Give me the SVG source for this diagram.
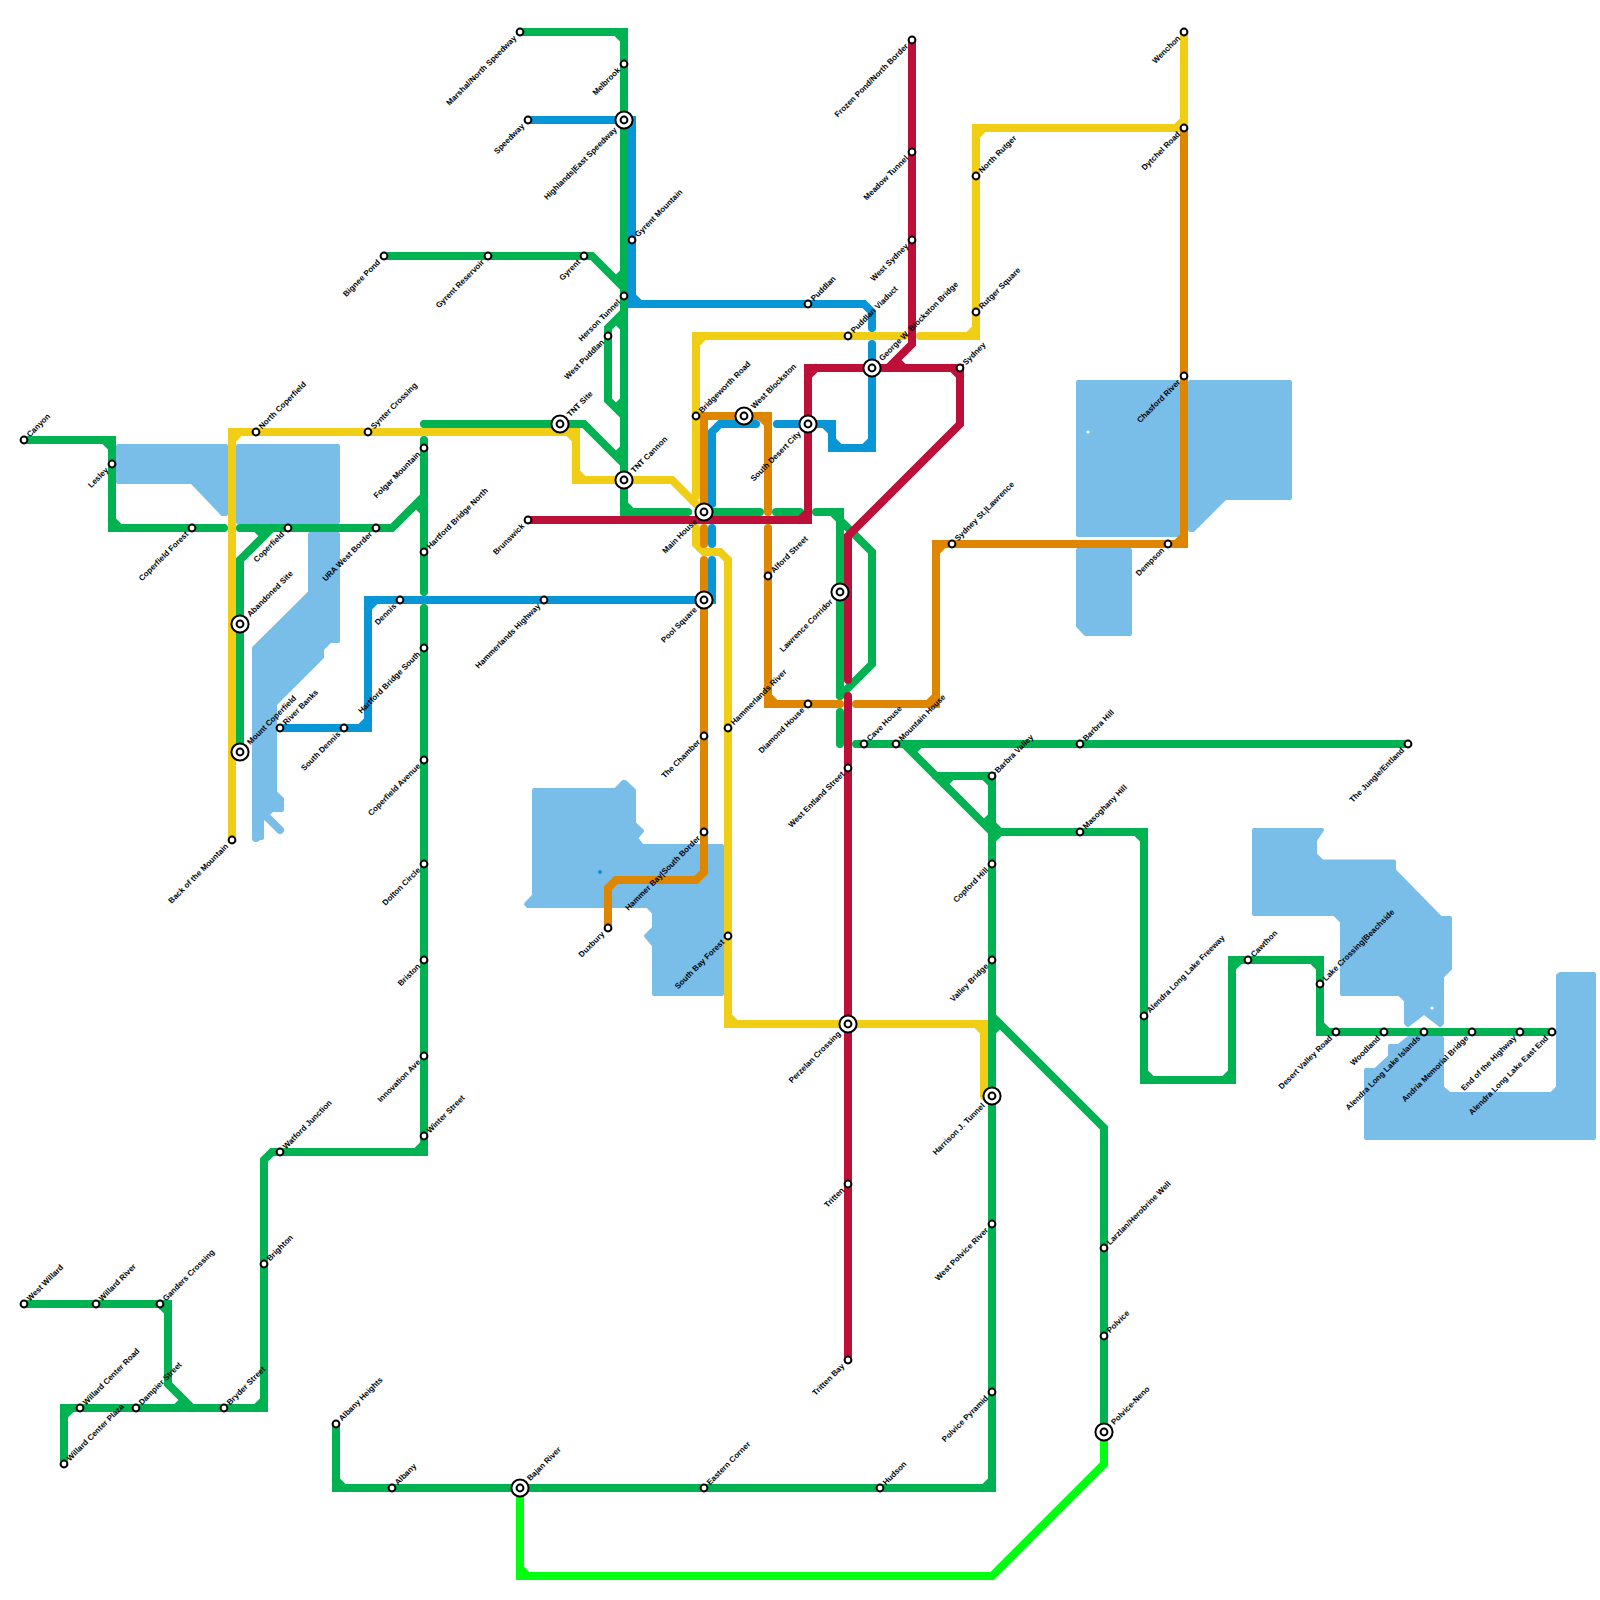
<svg xmlns="http://www.w3.org/2000/svg" width="1600" height="1600" viewBox="0 0 1600 1600">
<style>
.w{fill:#79bde9;stroke:#79bde9;stroke-width:4;stroke-linejoin:round;stroke-linecap:round}
.t{fill:none;stroke:#79bde9;stroke-width:8;stroke-linecap:round}
.c path{fill:none;stroke-width:8;stroke-linecap:round;stroke-linejoin:miter;stroke-miterlimit:4}
.gr{stroke:#00b251}.li{stroke:#0f1}.bl{stroke:#0896d7}.ye{stroke:#f0ce15}.or{stroke:#df8600}.cr{stroke:#bd1038}
.s{fill:#fff;stroke:#000;stroke-width:2}
text{font-family:"Liberation Sans",Arial,sans-serif;font-size:8px;font-weight:700;fill:#000}
.a{text-anchor:start}.b{text-anchor:end}
</style>
<defs>
<g id="m"><circle class="s" r="3.4"/></g>
<g id="x"><circle class="s" r="8.6"/><circle class="s" r="3.4"/></g>
</defs>
<rect width="1600" height="1600" fill="#fff"/>
<g id="water">
<path class="w" d="M118 446H226V514H222.500L192 482H118Z"/>
<path class="w" d="M238 446H338V522H238Z"/>
<path class="w" d="M310 534H338V641H330L322 649V657L275 704V792.500L282 799V810H272L262 820V838H254V648L310 592.500Z"/>
<path class="t" d="M268 818L280 830"/>
<path class="t" d="M256 838V820"/>
<path class="w" d="M534 790H615.500L623 782H625L634 790.500V823.500L642 831L636 838L642 846H722V994H654V945.500L646 936L654 928V913L647.500 906H528L526 904L534 895.500Z"/>
<path class="w" d="M1078 382H1178V535H1078Z"/>
<path class="w" d="M1190 382H1290V498H1225L1193 530H1190Z"/>
<path class="w" d="M1078 550H1130V634H1085.500L1078 626Z"/>
<path class="w" d="M1254 830H1322L1315 840.500V854.500L1322 861.500H1394V870.500L1440.500 918H1450V968.500L1442 976.500V1023L1440 1025L1424 1012.500L1408 1025L1406 1023V1000.500L1399.500 994H1342V921.500L1334.500 914H1254Z"/>
<path class="w" d="M1442 1038V1087.500L1449.500 1094H1551.500L1558 1087.500V975.500L1560 974H1594V1138H1366V1070H1375.500L1390 1056.500V1046H1398.500L1408.500 1038Z"/>
<circle cx="600" cy="872" r="2" fill="#0896d7"/>
<circle cx="1088" cy="432" r="1.6" fill="#fff"/>
<circle cx="1432" cy="1008" r="1.6" fill="#fff"/>
</g>
<g id="connectors" class="c">
<path class="li" d="M520 1488V1576H992L1104 1464V1432M520 1568L528 1576"/>
<path class="gr" d="M24 440H112V528H224M104 440L112 448M112 520L120 528"/>
<path class="gr" d="M240 528H392L424 496M416 504L424 512"/>
<path class="gr" d="M272 528L240 560V752M256 528L264 536"/>
<path class="gr" d="M424 440V592M424 608V1152H272L264 1160V1408H64V1464M424 1144L416 1152M264 1400L256 1408M72 1408L64 1416"/>
<path class="gr" d="M424 424H584L624 464M616 456L624 448"/>
<path class="gr" d="M520 32H624V512H688M704 512H760M776 512H800M816 512H840V696M840 712V744M616 32L624 40M624 504L632 512M832 512L840 520"/>
<path class="gr" d="M840 520L872 552V664L840 696"/>
<path class="gr" d="M624 312L608 328V400L624 416M616 320L624 328M616 408L624 400"/>
<path class="gr" d="M384 256H592L624 288M616 280L624 272"/>
<path class="gr" d="M336 1424V1488H992V776H936M336 1480L344 1488M984 1488L992 1480M984 776L992 784M944 784L952 776M1000 1024L992 1032"/>
<path class="gr" d="M856 744H1408M904 744L992 832M912 752L920 744M984 824L992 816M992 824L1000 832M1000 832L992 840"/>
<path class="gr" d="M992 832H1144V1080H1232V960H1320V1032H1552M1136 832L1144 840M1144 1072L1152 1080M1224 1080L1232 1072M1232 968L1240 960M1312 960L1320 968M1320 1024L1328 1032"/>
<path class="gr" d="M992 1016L1104 1128V1432"/>
<path class="gr" d="M24 1304H168V1384L192 1408M160 1304L168 1312M184 1400L176 1408"/>
<path class="ye" d="M232 840V432H576V480H672L704 512M232 440L240 432M568 432L576 440M576 472L584 480"/>
<path class="ye" d="M696 496V336H904M920 336H976V128H1184M696 344L704 336M976 328L968 336M976 136L984 128M1176 128L1184 120"/>
<path class="ye" d="M1184 32V128"/>
<path class="ye" d="M696 528V544L704 552H720L728 560V1024H984V1096M728 1016L736 1024M976 1024L984 1032"/>
<path class="or" d="M704 504V416H768V512M768 528V704H840M856 704H936V544H1184V128M760 416L768 424M768 696L776 704M928 704L936 696M936 552L944 544M1176 544L1184 536"/>
<path class="or" d="M704 528V544M704 560V872L696 880H616L608 888V928"/>
<path class="bl" d="M528 120H632V304H864L872 312V328M872 344V448H832V424H777M756 424H720L712 432V504M712 528V544M712 560V600H368V728H280M632 296L640 304M872 440L864 448M840 448L832 440M832 432L824 424M376 600L368 608M368 720L360 728"/>
<path class="cr" d="M528 520H808V368H960V424L848 536V680M848 696V1360M800 520L808 512M808 376L816 368M952 368L960 376"/>
<path class="cr" d="M912 40V344L888 368M896 360L904 368"/>
</g>
<g id="nodes">
<g id="n1" transform="translate(24 440)"><use href="#m"/><text class="a" x="6" y="2.5" transform="rotate(-45)">Canyon</text></g>
<g id="n2" transform="translate(112 464)"><use href="#m"/><text class="b" x="-7" y="2.5" transform="rotate(-45)">Lesley</text></g>
<g id="n3" transform="translate(192 528)"><use href="#m"/><text class="b" x="-7" y="2.5" transform="rotate(-45)">Coperfield Forest</text></g>
<g id="n4" transform="translate(232 840)"><use href="#m"/><text class="b" x="-7" y="2.5" transform="rotate(-45)">Back of the Mountain</text></g>
<g id="n5" transform="translate(256 432)"><use href="#m"/><text class="a" x="6" y="2.5" transform="rotate(-45)">North Coperfield</text></g>
<g id="n6" transform="translate(368 432)"><use href="#m"/><text class="a" x="6" y="2.5" transform="rotate(-45)">Synter Crossing</text></g>
<g id="n7" transform="translate(560 424)"><use href="#x"/><text class="a" x="12" y="2.5" transform="rotate(-45)">TNT Site</text></g>
<g id="n8" transform="translate(624 480)"><use href="#x"/><text class="a" x="12" y="2.5" transform="rotate(-45)">TNT Cannon</text></g>
<g id="n9" transform="translate(424 448)"><use href="#m"/><text class="b" x="-7" y="2.5" transform="rotate(-45)">Folgar Mountain</text></g>
<g id="n10" transform="translate(424 552)"><use href="#m"/><text class="a" x="6" y="2.5" transform="rotate(-45)">Hartford Bridge North</text></g>
<g id="n11" transform="translate(424 648)"><use href="#m"/><text class="b" x="-7" y="2.5" transform="rotate(-45)">Hartford Bridge South</text></g>
<g id="n12" transform="translate(424 760)"><use href="#m"/><text class="b" x="-7" y="2.5" transform="rotate(-45)">Coperfield Avenue</text></g>
<g id="n13" transform="translate(424 864)"><use href="#m"/><text class="b" x="-7" y="2.5" transform="rotate(-45)">Dolton Circle</text></g>
<g id="n14" transform="translate(424 960)"><use href="#m"/><text class="b" x="-7" y="2.5" transform="rotate(-45)">Briston</text></g>
<g id="n15" transform="translate(424 1056)"><use href="#m"/><text class="b" x="-7" y="2.5" transform="rotate(-45)">Innovation Ave</text></g>
<g id="n16" transform="translate(424 1136)"><use href="#m"/><text class="a" x="6" y="2.5" transform="rotate(-45)">Winter Street</text></g>
<g id="n17" transform="translate(280 1152)"><use href="#m"/><text class="a" x="6" y="2.5" transform="rotate(-45)">Watford Junction</text></g>
<g id="n18" transform="translate(264 1264)"><use href="#m"/><text class="a" x="6" y="2.5" transform="rotate(-45)">Brighton</text></g>
<g id="n19" transform="translate(224 1408)"><use href="#m"/><text class="a" x="6" y="2.5" transform="rotate(-45)">Bryder Street</text></g>
<g id="n20" transform="translate(136 1408)"><use href="#m"/><text class="a" x="6" y="2.5" transform="rotate(-45)">Dampier Street</text></g>
<g id="n21" transform="translate(80 1408)"><use href="#m"/><text class="a" x="6" y="2.5" transform="rotate(-45)">Willard Center Road</text></g>
<g id="n22" transform="translate(64 1464)"><use href="#m"/><text class="a" x="6" y="2.5" transform="rotate(-45)">Willard Center Plaza</text></g>
<g id="n23" transform="translate(24 1304)"><use href="#m"/><text class="a" x="6" y="2.5" transform="rotate(-45)">West Willard</text></g>
<g id="n24" transform="translate(96 1304)"><use href="#m"/><text class="a" x="6" y="2.5" transform="rotate(-45)">Willard River</text></g>
<g id="n25" transform="translate(160 1304)"><use href="#m"/><text class="a" x="6" y="2.5" transform="rotate(-45)">Ganders Crossing</text></g>
<g id="n26" transform="translate(336 1424)"><use href="#m"/><text class="a" x="6" y="2.5" transform="rotate(-45)">Albany Heights</text></g>
<g id="n27" transform="translate(392 1488)"><use href="#m"/><text class="a" x="6" y="2.5" transform="rotate(-45)">Albany</text></g>
<g id="n28" transform="translate(520 1488)"><use href="#x"/><text class="a" x="12" y="2.5" transform="rotate(-45)">Bajan River</text></g>
<g id="n29" transform="translate(704 1488)"><use href="#m"/><text class="a" x="6" y="2.5" transform="rotate(-45)">Eastern Corner</text></g>
<g id="n30" transform="translate(880 1488)"><use href="#m"/><text class="a" x="6" y="2.5" transform="rotate(-45)">Hudson</text></g>
<g id="n31" transform="translate(992 1392)"><use href="#m"/><text class="b" x="-7" y="2.5" transform="rotate(-45)">Polvice Pyramid</text></g>
<g id="n32" transform="translate(992 1224)"><use href="#m"/><text class="b" x="-7" y="2.5" transform="rotate(-45)">West Polvice River</text></g>
<g id="n33" transform="translate(992 1096)"><use href="#x"/><text class="b" x="-12" y="2.5" transform="rotate(-45)">Harrison J. Tunnel</text></g>
<g id="n34" transform="translate(992 960)"><use href="#m"/><text class="b" x="-7" y="2.5" transform="rotate(-45)">Valley Bridge</text></g>
<g id="n35" transform="translate(992 864)"><use href="#m"/><text class="b" x="-7" y="2.5" transform="rotate(-45)">Copford Hill</text></g>
<g id="n36" transform="translate(992 776)"><use href="#m"/><text class="a" x="6" y="2.5" transform="rotate(-45)">Barbra Valley</text></g>
<g id="n37" transform="translate(1080 832)"><use href="#m"/><text class="a" x="6" y="2.5" transform="rotate(-45)">Masoghany Hill</text></g>
<g id="n38" transform="translate(1080 744)"><use href="#m"/><text class="a" x="6" y="2.5" transform="rotate(-45)">Barbra Hill</text></g>
<g id="n39" transform="translate(1408 744)"><use href="#m"/><text class="b" x="-7" y="2.5" transform="rotate(-45)">The Jungle/Entland</text></g>
<g id="n40" transform="translate(864 744)"><use href="#m"/><text class="a" x="6" y="2.5" transform="rotate(-45)">Cave House</text></g>
<g id="n41" transform="translate(896 744)"><use href="#m"/><text class="a" x="6" y="2.5" transform="rotate(-45)">Mountain House</text></g>
<g id="n42" transform="translate(848 768)"><use href="#m"/><text class="b" x="-7" y="2.5" transform="rotate(-45)">West Entland Street</text></g>
<g id="n43" transform="translate(848 1024)"><use href="#x"/><text class="b" x="-12" y="2.5" transform="rotate(-45)">Perzelan Crossing</text></g>
<g id="n44" transform="translate(848 1184)"><use href="#m"/><text class="b" x="-7" y="2.5" transform="rotate(-45)">Tritten</text></g>
<g id="n45" transform="translate(848 1360)"><use href="#m"/><text class="b" x="-7" y="2.5" transform="rotate(-45)">Tritten Bay</text></g>
<g id="n46" transform="translate(808 704)"><use href="#m"/><text class="b" x="-7" y="2.5" transform="rotate(-45)">Diamond House</text></g>
<g id="n47" transform="translate(728 728)"><use href="#m"/><text class="a" x="6" y="2.5" transform="rotate(-45)">Hammerlands River</text></g>
<g id="n48" transform="translate(768 576)"><use href="#m"/><text class="a" x="6" y="2.5" transform="rotate(-45)">Alford Street</text></g>
<g id="n49" transform="translate(704 736)"><use href="#m"/><text class="b" x="-7" y="2.5" transform="rotate(-45)">The Chamber</text></g>
<g id="n50" transform="translate(704 832)"><use href="#m"/><text class="b" x="-7" y="2.5" transform="rotate(-45)">Hammer Bay|South Border</text></g>
<g id="n51" transform="translate(608 928)"><use href="#m"/><text class="b" x="-7" y="2.5" transform="rotate(-45)">Duxbury</text></g>
<g id="n52" transform="translate(728 936)"><use href="#m"/><text class="b" x="-7" y="2.5" transform="rotate(-45)">South Bay Forest</text></g>
<g id="n53" transform="translate(704 600)"><use href="#x"/><text class="b" x="-12" y="2.5" transform="rotate(-45)">Pool Square</text></g>
<g id="n54" transform="translate(704 512)"><use href="#x"/><text class="b" x="-12" y="2.5" transform="rotate(-45)">Main House</text></g>
<g id="n55" transform="translate(696 416)"><use href="#m"/><text class="a" x="6" y="2.5" transform="rotate(-45)">Bridgeworth Road</text></g>
<g id="n56" transform="translate(744 416)"><use href="#x"/><text class="a" x="12" y="2.5" transform="rotate(-45)">West Blockston</text></g>
<g id="n57" transform="translate(808 424)"><use href="#x"/><text class="b" x="-12" y="2.5" transform="rotate(-45)">South Desert City</text></g>
<g id="n58" transform="translate(872 368)"><use href="#x"/><text class="a" x="12" y="2.5" transform="rotate(-45)">George W. Blockston Bridge</text></g>
<g id="n59" transform="translate(848 336)"><use href="#m"/><text class="a" x="6" y="2.5" transform="rotate(-45)">Puddlan Viaduct</text></g>
<g id="n60" transform="translate(808 304)"><use href="#m"/><text class="a" x="6" y="2.5" transform="rotate(-45)">Puddlan</text></g>
<g id="n61" transform="translate(960 368)"><use href="#m"/><text class="a" x="6" y="2.5" transform="rotate(-45)">Sydney</text></g>
<g id="n62" transform="translate(952 544)"><use href="#m"/><text class="a" x="6" y="2.5" transform="rotate(-45)">Sydney St.|Lawrence</text></g>
<g id="n63" transform="translate(840 592)"><use href="#x"/><text class="b" x="-12" y="2.5" transform="rotate(-45)">Lawrence Corridor</text></g>
<g id="n64" transform="translate(976 312)"><use href="#m"/><text class="a" x="6" y="2.5" transform="rotate(-45)">Rutger Square</text></g>
<g id="n65" transform="translate(976 176)"><use href="#m"/><text class="a" x="6" y="2.5" transform="rotate(-45)">North Rutger</text></g>
<g id="n66" transform="translate(912 40)"><use href="#m"/><text class="b" x="-7" y="2.5" transform="rotate(-45)">Frozen Pond/North Border</text></g>
<g id="n67" transform="translate(912 152)"><use href="#m"/><text class="b" x="-7" y="2.5" transform="rotate(-45)">Meadow Tunnel</text></g>
<g id="n68" transform="translate(912 240)"><use href="#m"/><text class="b" x="-7" y="2.5" transform="rotate(-45)">West Sydney</text></g>
<g id="n69" transform="translate(1184 32)"><use href="#m"/><text class="b" x="-7" y="2.5" transform="rotate(-45)">Wenchon</text></g>
<g id="n70" transform="translate(1184 128)"><use href="#m"/><text class="b" x="-7" y="2.5" transform="rotate(-45)">Dytchel Road</text></g>
<g id="n71" transform="translate(1184 376)"><use href="#m"/><text class="b" x="-7" y="2.5" transform="rotate(-45)">Chasford River</text></g>
<g id="n72" transform="translate(1168 544)"><use href="#m"/><text class="b" x="-7" y="2.5" transform="rotate(-45)">Dempson</text></g>
<g id="n73" transform="translate(1144 1016)"><use href="#m"/><text class="a" x="6" y="2.5" transform="rotate(-45)">Alendra Long Lake Freeway</text></g>
<g id="n74" transform="translate(1248 960)"><use href="#m"/><text class="a" x="6" y="2.5" transform="rotate(-45)">Cawthon</text></g>
<g id="n75" transform="translate(1320 984)"><use href="#m"/><text class="a" x="6" y="2.5" transform="rotate(-45)">Lake Crossing|Beachside</text></g>
<g id="n76" transform="translate(1336 1032)"><use href="#m"/><text class="b" x="-7" y="2.5" transform="rotate(-45)">Desert Valley Road</text></g>
<g id="n77" transform="translate(1384 1032)"><use href="#m"/><text class="b" x="-7" y="2.5" transform="rotate(-45)">Woodland</text></g>
<g id="n78" transform="translate(1424 1032)"><use href="#m"/><text class="b" x="-7" y="2.5" transform="rotate(-45)">Alendra Long Lake Islands</text></g>
<g id="n79" transform="translate(1472 1032)"><use href="#m"/><text class="b" x="-7" y="2.5" transform="rotate(-45)">Andria Memorial Bridge</text></g>
<g id="n80" transform="translate(1520 1032)"><use href="#m"/><text class="b" x="-7" y="2.5" transform="rotate(-45)">End of the Highway</text></g>
<g id="n81" transform="translate(1552 1032)"><use href="#m"/><text class="b" x="-7" y="2.5" transform="rotate(-45)">Alendra Long Lake East End</text></g>
<g id="n82" transform="translate(1104 1248)"><use href="#m"/><text class="a" x="6" y="2.5" transform="rotate(-45)">Larzlan/Herobrine Well</text></g>
<g id="n83" transform="translate(1104 1336)"><use href="#m"/><text class="a" x="6" y="2.5" transform="rotate(-45)">Polvice</text></g>
<g id="n84" transform="translate(1104 1432)"><use href="#x"/><text class="a" x="12" y="2.5" transform="rotate(-45)">Polvice-Neno</text></g>
<g id="n85" transform="translate(520 32)"><use href="#m"/><text class="b" x="-7" y="2.5" transform="rotate(-45)">Marshal/North Speedway</text></g>
<g id="n86" transform="translate(624 64)"><use href="#m"/><text class="b" x="-7" y="2.5" transform="rotate(-45)">Melbrook</text></g>
<g id="n87" transform="translate(528 120)"><use href="#m"/><text class="b" x="-7" y="2.5" transform="rotate(-45)">Speedway</text></g>
<g id="n88" transform="translate(624 120)"><use href="#x"/><text class="b" x="-12" y="2.5" transform="rotate(-45)">Highlands|East Speedway</text></g>
<g id="n89" transform="translate(632 240)"><use href="#m"/><text class="a" x="6" y="2.5" transform="rotate(-45)">Gyrent Mountain</text></g>
<g id="n90" transform="translate(584 256)"><use href="#m"/><text class="b" x="-7" y="2.5" transform="rotate(-45)">Gyrent</text></g>
<g id="n91" transform="translate(488 256)"><use href="#m"/><text class="b" x="-7" y="2.5" transform="rotate(-45)">Gyrent Reservoir</text></g>
<g id="n92" transform="translate(384 256)"><use href="#m"/><text class="b" x="-7" y="2.5" transform="rotate(-45)">Bignee Pond</text></g>
<g id="n93" transform="translate(624 296)"><use href="#m"/><text class="b" x="-7" y="2.5" transform="rotate(-45)">Herson Tunnel</text></g>
<g id="n94" transform="translate(608 336)"><use href="#m"/><text class="b" x="-7" y="2.5" transform="rotate(-45)">West Puddlan</text></g>
<g id="n95" transform="translate(528 520)"><use href="#m"/><text class="b" x="-7" y="2.5" transform="rotate(-45)">Brunswick</text></g>
<g id="n96" transform="translate(544 600)"><use href="#m"/><text class="b" x="-7" y="2.5" transform="rotate(-45)">Hammerlands Highway</text></g>
<g id="n97" transform="translate(400 600)"><use href="#m"/><text class="b" x="-7" y="2.5" transform="rotate(-45)">Dennis</text></g>
<g id="n98" transform="translate(344 728)"><use href="#m"/><text class="b" x="-7" y="2.5" transform="rotate(-45)">South Dennis</text></g>
<g id="n99" transform="translate(280 728)"><use href="#m"/><text class="a" x="6" y="2.5" transform="rotate(-45)">River Banks</text></g>
<g id="n100" transform="translate(376 528)"><use href="#m"/><text class="b" x="-7" y="2.5" transform="rotate(-45)">URA West Border</text></g>
<g id="n101" transform="translate(288 528)"><use href="#m"/><text class="b" x="-7" y="2.5" transform="rotate(-45)">Coperfield</text></g>
<g id="n102" transform="translate(240 624)"><use href="#x"/><text class="a" x="12" y="2.5" transform="rotate(-45)">Abandoned Site</text></g>
<g id="n103" transform="translate(240 752)"><use href="#x"/><text class="a" x="12" y="2.5" transform="rotate(-45)">Mount Coperfield</text></g>
</g>
</svg>
